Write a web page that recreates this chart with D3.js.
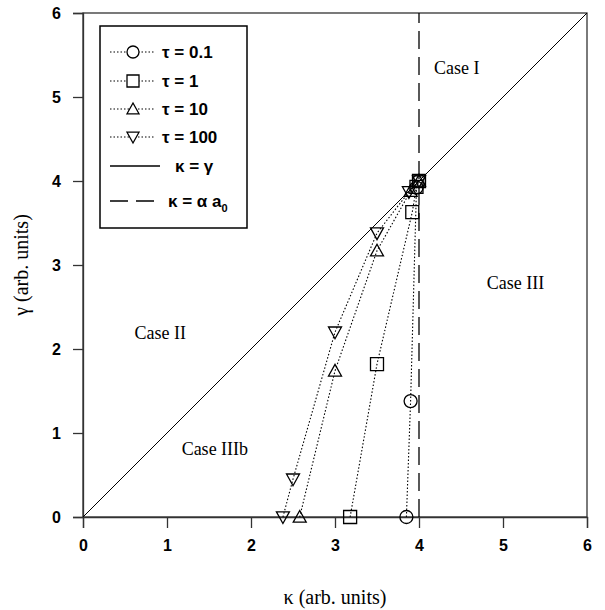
<!DOCTYPE html>
<html>
<head>
<meta charset="utf-8">
<script src="https://cdn.jsdelivr.net/npm/d3@7"></script>
<style>
  body { margin: 0; background: #fff; }
  svg { display: block; }
</style>
</head>
<body>
<div id="chart"></div>
<script>
// data
var xTicks = [0, 1, 2, 3, 4, 5, 6];
var yTicks = [0, 1, 2, 3, 4, 5, 6];
var seriesNames = ["\u03c4 = 0.1", "\u03c4 = 1", "\u03c4 = 10", "\u03c4 = 100"];
var tau01 = [[3.85, 0], [3.9, 1.38], [3.97, 3.92], [4, 4]];
var tau1 = [[3.18, 0], [3.5, 1.82], [3.92, 3.63], [3.97, 3.93], [4, 4]];
var tau10 = [[2.58, 0], [3.0, 1.74], [3.5, 3.17], [3.9, 3.88], [4, 4]];
var tau100 = [[2.38, 0], [2.5, 0.45], [3.0, 2.2], [3.5, 3.38], [3.88, 3.87], [4, 4]];
var diagonal = [[0, 0], [6, 6]];
var kappaLimit = 4;
var caseLabels = [
    {text: "Case I", x: 4.45, y: 5.27},
    {text: "Case III", x: 5.15, y: 2.72},
    {text: "Case II", x: 0.92, y: 2.12},
    {text: "Case IIIb", x: 1.57, y: 0.74}
];

var margin = {top: 13, right: 18, bottom: 93, left: 83},
    width = 605 - margin.left - margin.right,
    height = 610 - margin.top - margin.bottom;

var svg = d3.select("#chart").append("svg")
    .attr("width", 605)
    .attr("height", 610)
    .append("g")
    .attr("transform", "translate(" + margin.left + "," + margin.top + ")");

var x = d3.scaleLinear().domain([0, 6]).range([0, width]);
var y = d3.scaleLinear().domain([0, 6]).range([height, 0]);

// frame
svg.append("rect")
    .attr("width", width).attr("height", height)
    .attr("fill", "none").attr("stroke", "#333").attr("stroke-width", 1.3);

// axes
var xAxis = svg.append("g")
    .attr("transform", "translate(0," + height + ")")
    .call(d3.axisBottom(x).tickValues(xTicks).tickSize(11).tickPadding(12).tickFormat(d3.format("d")));
var yAxis = svg.append("g")
    .call(d3.axisLeft(y).tickValues(yTicks).tickSize(10).tickPadding(12).tickFormat(d3.format("d")));
[xAxis, yAxis].forEach(function(a) {
    a.select(".domain").attr("stroke", "#333").attr("stroke-width", 1.3);
    a.selectAll(".tick line").attr("stroke", "#333").attr("stroke-width", 1.3);
    a.selectAll(".tick text")
        .attr("fill", "#000")
        .style("font-family", "Arial, 'Liberation Sans', sans-serif")
        .style("font-weight", "bold")
        .style("font-size", "16px");
});

// reference lines
var line = d3.line()
    .x(function(d) { return x(d[0]); })
    .y(function(d) { return y(d[1]); });

svg.append("path")
    .attr("d", line(diagonal))
    .attr("fill", "none").attr("stroke", "#000").attr("stroke-width", 1);

svg.append("line")
    .attr("x1", x(kappaLimit)).attr("x2", x(kappaLimit))
    .attr("y1", y(0)).attr("y2", y(6))
    .attr("stroke", "#000").attr("stroke-width", 1.3)
    .attr("stroke-dasharray", "18,8");

// case labels
svg.selectAll(".case")
    .data(caseLabels)
    .enter().append("text")
    .attr("x", function(d) { return x(d.x); })
    .attr("y", function(d) { return y(d.y); })
    .attr("text-anchor", "middle")
    .style("font-family", "'Times New Roman', 'Liberation Serif', serif")
    .style("font-size", "18px")
    .text(function(d) { return d.text; });

// markers
var markerPath = {
    circle: function(s) { var r = s / 2; return "M" + r + ",0A" + r + "," + r + " 0 1,1 " + (-r) + ",0A" + r + "," + r + " 0 1,1 " + r + ",0Z"; },
    square: function(s) { var h = s / 2; return "M" + (-h) + "," + (-h) + "H" + h + "V" + h + "H" + (-h) + "Z"; },
    up: function(s) { var h = s / 2; return "M0," + (-h) + "L" + h + "," + (h * 0.8) + "H" + (-h) + "Z"; },
    down: function(s) { var h = s / 2; return "M0," + h + "L" + h + "," + (-h * 0.8) + "H" + (-h) + "Z"; }
};
var shapes = ["circle", "square", "up", "down"];
var allSeries = [tau01, tau1, tau10, tau100];

allSeries.forEach(function(data, i) {
    svg.append("path")
        .attr("d", line(data))
        .attr("fill", "none").attr("stroke", "#000").attr("stroke-width", 1.1)
        .attr("stroke-dasharray", "1.5,2");
    svg.selectAll(".m" + i)
        .data(data)
        .enter().append("path")
        .attr("transform", function(d) { return "translate(" + x(d[0]) + "," + y(d[1]) + ")"; })
        .attr("d", markerPath[shapes[i]](13))
        .attr("fill", "none").attr("stroke", "#000").attr("stroke-width", 1.3);
});

// legend
var lg = svg.append("g").attr("transform", "translate(" + (100 - margin.left) + "," + (26 - margin.top) + ")");
lg.append("rect")
    .attr("width", 147).attr("height", 202)
    .attr("fill", "#fff").attr("stroke", "#000").attr("stroke-width", 1.5);
var rowY = [26, 55, 83, 111, 140, 175];
var legendFont = "Arial, 'Liberation Sans', sans-serif";
seriesNames.forEach(function(name, i) {
    var g = lg.append("g").attr("transform", "translate(0," + rowY[i] + ")");
    g.append("line").attr("x1", 10).attr("x2", 55)
        .attr("stroke", "#000").attr("stroke-width", 1.1).attr("stroke-dasharray", "1.5,2");
    g.append("path").attr("transform", "translate(33,0)")
        .attr("d", markerPath[shapes[i]](12))
        .attr("fill", "#fff").attr("stroke", "#000").attr("stroke-width", 1.3);
    g.append("text").attr("x", 62).attr("y", 6)
        .style("font-family", legendFont).style("font-weight", "bold").style("font-size", "17px")
        .text(name);
});
var g5 = lg.append("g").attr("transform", "translate(0," + rowY[4] + ")");
g5.append("line").attr("x1", 10).attr("x2", 60).attr("stroke", "#000").attr("stroke-width", 1.3);
g5.append("text").attr("x", 75).attr("y", 6)
    .style("font-family", legendFont).style("font-weight", "bold").style("font-size", "17px")
    .text("\u03ba = \u03b3");
var g6 = lg.append("g").attr("transform", "translate(0," + rowY[5] + ")");
g6.append("line").attr("x1", 10).attr("x2", 60).attr("stroke", "#000").attr("stroke-width", 1.3)
    .attr("stroke-dasharray", "18,8");
var t6 = g6.append("text").attr("x", 68).attr("y", 6)
    .style("font-family", legendFont).style("font-weight", "bold").style("font-size", "17px");
t6.append("tspan").text("\u03ba = \u03b1 a");
t6.append("tspan").attr("dy", 5).style("font-size", "11px").text("0");

// axis titles
svg.append("text")
    .attr("x", width / 2).attr("y", height + 87)
    .attr("text-anchor", "middle")
    .style("font-family", "'Times New Roman', 'Liberation Serif', serif")
    .style("font-size", "20px")
    .text("\u03ba (arb. units)");
svg.append("text")
    .attr("transform", "translate(" + (-55) + "," + (height / 2) + ") rotate(-90)")
    .attr("text-anchor", "middle")
    .style("font-family", "'Times New Roman', 'Liberation Serif', serif")
    .style("font-size", "20px")
    .text("\u03b3 (arb. units)");
</script>
</body>
</html>
